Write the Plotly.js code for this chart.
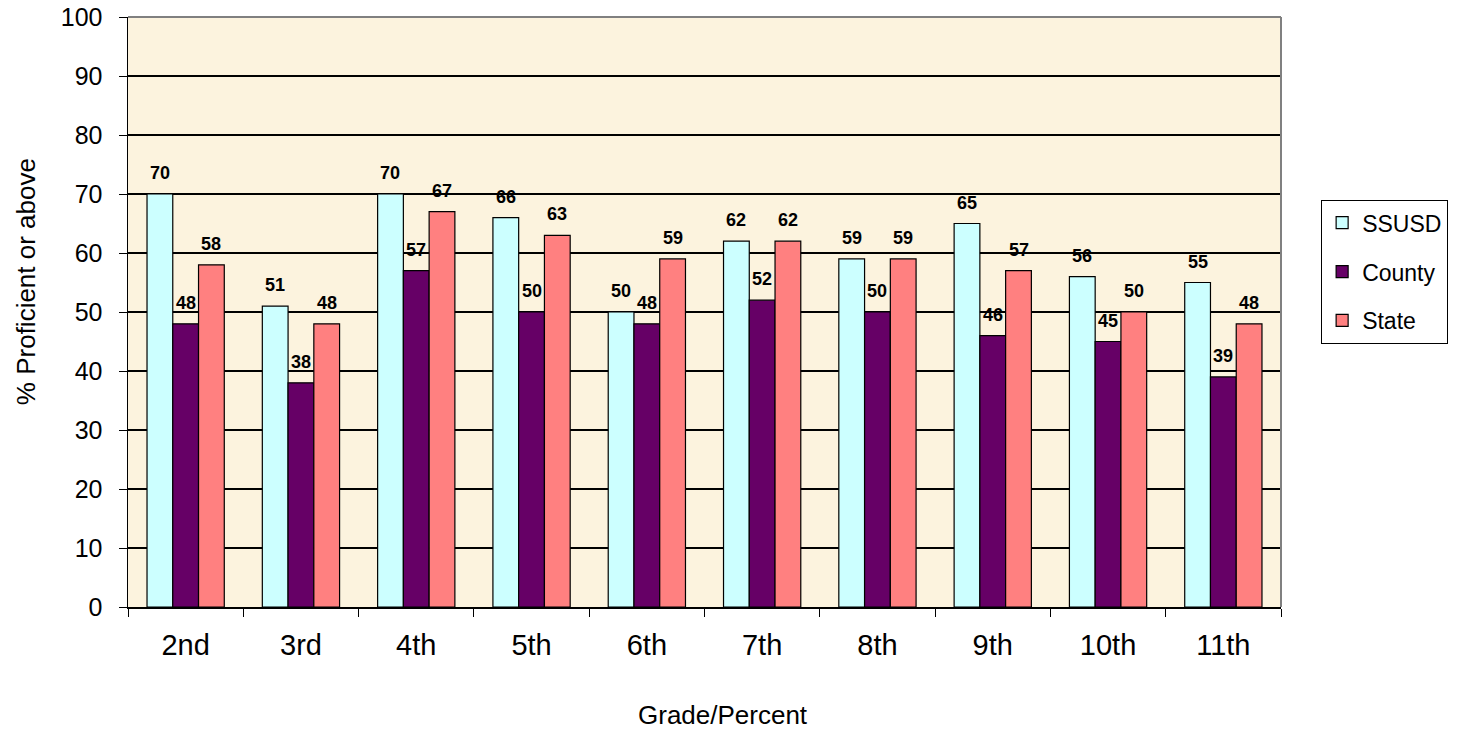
<!DOCTYPE html>
<html><head><meta charset="utf-8">
<script src="https://cdn.plot.ly/plotly-3.0.1.min.js"></script>
<style>html,body{margin:0;padding:0;background:#fff}#chart{width:1460px;height:735px}</style>
</head><body><div id="chart"></div>
<script>
const grades = ["2nd","3rd","4th","5th","6th","7th","8th","9th","10th","11th"];
const ssusd = [70,51,70,66,50,62,59,65,56,55];
const county = [48,38,57,50,48,52,50,46,45,39];
const state = [58,48,67,63,59,62,59,57,50,48];
const yTicks = [0,10,20,30,40,50,60,70,80,90,100];
const seriesNames = ['SSUSD','County','State'];
const seriesVals = [ssusd, county, state];
const seriesColors = ['#CCFFFF','#660066','#FF8080'];
const xTitle = 'Grade/Percent';
const yTitle = '% Proficient or above';

const W = 1460, H = 735, ML = 128, MR = 177, MT = 17, MB = 128;
const PW = W - ML - MR, PH = H - MT - MB;
const BARGAP = 0.33;
const catW = PW / grades.length;
const barW = catW * (1 - BARGAP) / 3;

const data = seriesNames.map((n, i) => ({
  type:'bar', name:n, x:grades, y:seriesVals[i], legendgroup:n,
  marker:{color:seriesColors[i], line:{color:'#000', width:1.2}}
}));

const annotations = [];
seriesVals.forEach((vals, i) => {
  vals.forEach((v, j) => {
    annotations.push({x:grades[j], y:v, xref:'x', yref:'y', text:String(v), showarrow:false,
      xanchor:'center', yanchor:'bottom', yshift:9, xshift:(i - 1) * barW,
      font:{family:'Liberation Sans, Arial, sans-serif', size:18, color:'#000', weight:'bold'}});
  });
});
annotations.push({xref:'paper', yref:'paper', x:(26 - ML) / PW, y:(H - MB - 282) / PH,
  text:yTitle, textangle:-90, showarrow:false, xanchor:'center', yanchor:'middle',
  font:{size:26, color:'#000'}});
annotations.push({xref:'paper', yref:'paper', x:(724 - ML) / PW, y:(H - MB - 715) / PH,
  text:xTitle, showarrow:false, xanchor:'center', yanchor:'middle',
  font:{size:26, color:'#000'}});

const layout = {
  width:W, height:H,
  margin:{l:ML, r:MR, t:MT, b:MB},
  paper_bgcolor:'#fff', plot_bgcolor:'#FCF3DE',
  barmode:'group', bargap:BARGAP, bargroupgap:0,
  font:{family:'Liberation Sans, Arial, sans-serif', color:'#000'},
  xaxis:{type:'category', tickson:'boundaries', ticks:'outside', ticklen:8, tickcolor:'#000',
    showline:true, linecolor:'#000', linewidth:1.5, showgrid:false, ticklabelstandoff:12,
    tickfont:{size:29}},
  yaxis:{range:[0,100], tickvals:yTicks, ticks:'outside', ticklen:8, tickcolor:'#000',
    showline:true, linecolor:'#000', linewidth:1.5, gridcolor:'#000', gridwidth:1.2, zeroline:false,
    ticklabelstandoff:11, tickfont:{size:25}},
  legend:{x:(1323 - ML) / PW, y:(H - MB - 200) / PH, xanchor:'left', yanchor:'top',
    bordercolor:'#000', borderwidth:1.2, traceorder:'grouped',
    bgcolor:'#fff', font:{size:23}, tracegroupgap:16, itemwidth:30},
  annotations:annotations,
  shapes:[
    {type:'line', xref:'paper', yref:'paper', x0:0, x1:1, y0:1, y1:1, line:{color:'#808080', width:2}},
    {type:'line', xref:'paper', yref:'paper', x0:1, x1:1, y0:0, y1:1, line:{color:'#808080', width:2}}
  ]
};
Plotly.newPlot('chart', data, layout, {displayModeBar:false, staticPlot:true});
</script></body></html>
